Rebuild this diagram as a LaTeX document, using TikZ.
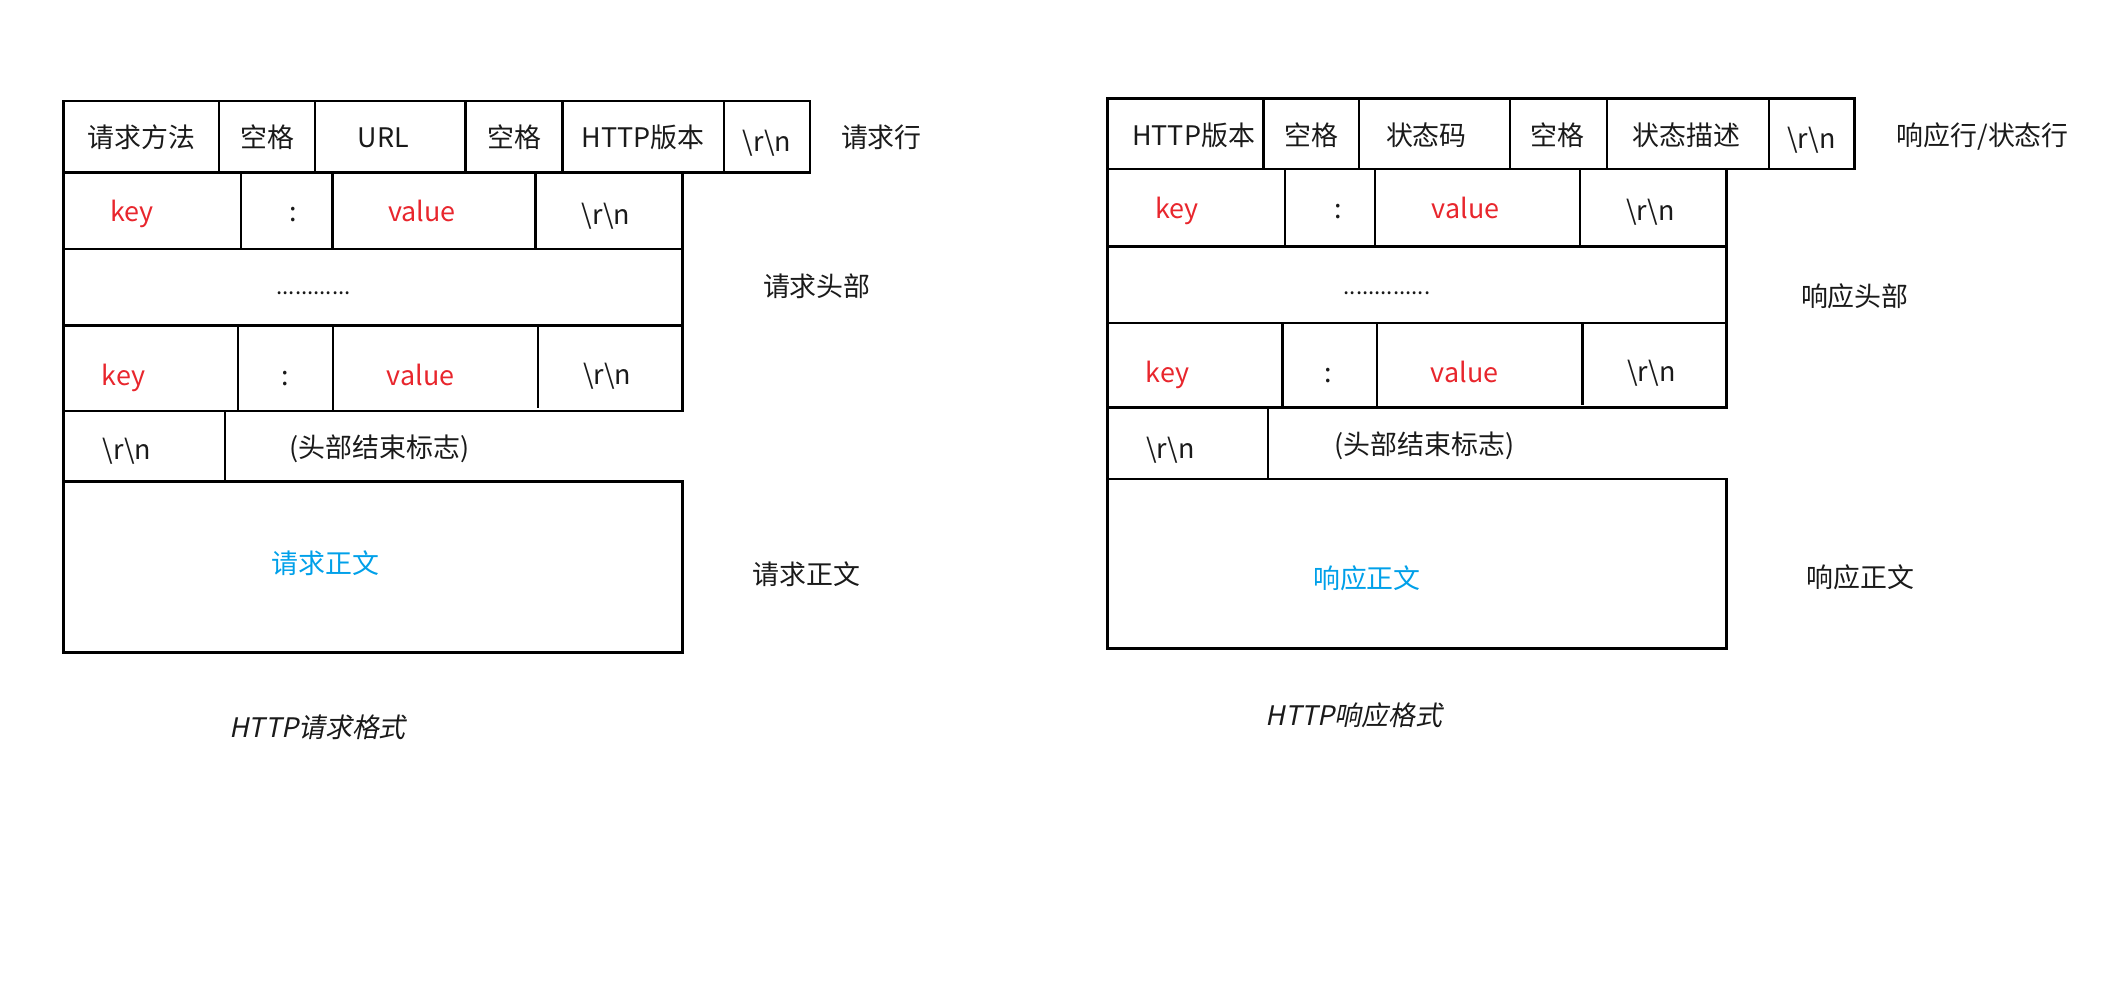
\documentclass[tikz,border=0pt]{standalone}
\usepackage{fontspec}
\setmainfont{Noto Sans CJK SC}
\newfontfamily\slantfont[FakeSlant=0.2]{Noto Sans CJK SC}
\definecolor{kvred}{HTML}{E8262D}
\definecolor{bodyblue}{HTML}{00A0E9}
\definecolor{ink}{HTML}{1A1A1A}
\newcommand{\crlf}{\textbackslash r\textbackslash n}
\begin{document}
\begin{tikzpicture}[x=1pt,y=-1pt,
  frame/.style={draw=black,line width=2pt},
  divider/.style={draw=black,line width=1.7pt},
  lbl/.style={inner sep=0pt,anchor=base,text=ink,font=\fontsize{20}{24}\selectfont},
  kv/.style={lbl,text=kvred},
  bodytxt/.style={lbl,text=bodyblue},
  dotsty/.style={lbl,font=\fontsize{16.5}{18}\selectfont},
  captxt/.style={lbl,font=\fontsize{20}{24}\slantfont}]
\useasboundingbox (0,0) rectangle (1568,744);
% ================= LEFT: request =================
% row 1
\draw[frame] (47,75) rectangle (602,128);
\foreach \x in {163,234,346,418,538} \draw[divider] (\x,75) -- (\x,128);
% row 2
\draw[frame] (47,128) rectangle (507,185);
\foreach \x in {179,247,398} \draw[divider] (\x,128) -- (\x,185);
% row 3
\draw[frame] (47,185) rectangle (507,242);
% row 4
\draw[frame] (47,242) rectangle (507,305.5);
\foreach \x in {177,247.5} \draw[divider] (\x,242) -- (\x,305.5);
\draw[divider] (400,242) -- (400,303);
% row 5
\draw[frame] (47,305.5) -- (47,358);
\draw[divider] (167,305.5) -- (167,358);
% body
\draw[frame] (47,358) rectangle (507,485);
% texts
\node[lbl] (lm) at (105,109.5) {请求方法};
\node[lbl] (ls1) at (198.5,109.5) {空格};
\node[lbl] (lurl) at (285,109.5) {URL};
\node[lbl] (ls2) at (382,109.5) {空格};
\node[lbl] (lver) at (478,109.5) {HTTP版本};
\node[lbl] (lcr1) at (570,112.5) {\crlf};
\node[lbl] (lrow) at (655,109.6) {请求行};
\node[kv] (lk1) at (98,164.7) {key};
\node[lbl] (lc1) at (218,164.7) {:};
\node[kv] (lv1) at (313.5,164.7) {value};
\node[lbl] (lcr2) at (450.3,167) {\crlf};
\node[dotsty] (ldots) at (233,219) {............};
\node[lbl] (lhead) at (607,220.6) {请求头部};
\node[kv] (lk2) at (91.7,286.5) {key};
\node[lbl] (lc2) at (211.6,286.5) {:};
\node[kv] (lv2) at (312.6,286.5) {value};
\node[lbl] (lcr3) at (451.2,286) {\crlf};
\node[lbl] (lcr4) at (94.5,341.8) {\crlf};
\node[lbl] (lend) at (282,340.3) {(头部结束标志)};
\node[bodytxt] (lbody) at (242,426.2) {请求正文};
\node[lbl] (lbodyl) at (599.5,434.2) {请求正文};
\node[captxt] (lcap) at (236,548) {HTTP请求格式};
% ================= RIGHT: response =================
% row 1
\draw[frame] (823,73) rectangle (1378,125.5);
\foreach \x in {939,1010,1122,1194,1314.5} \draw[divider] (\x,73) -- (\x,125.5);
% row 2
\draw[frame] (823,125.5) rectangle (1283,183);
\foreach \x in {955,1022,1174} \draw[divider] (\x,125.5) -- (\x,183);
% row 3
\draw[frame] (823,183) rectangle (1283,240);
% row 4
\draw[frame] (823,240) rectangle (1283,303);
\foreach \x in {953,1023.5} \draw[divider] (\x,240) -- (\x,303);
\draw[divider] (1176,240) -- (1176,301);
% row 5
\draw[frame] (823,303) -- (823,356);
\draw[divider] (942.5,303) -- (942.5,356);
% body
\draw[frame] (823,356) rectangle (1283,482);
% texts
\node[lbl] (rver) at (887,107.8) {HTTP版本};
\node[lbl] (rs1) at (974.5,107.8) {空格};
\node[lbl] (rcode) at (1060,107.8) {状态码};
\node[lbl] (rs2) at (1157.5,107.8) {空格};
\node[lbl] (rdesc) at (1253,107.8) {状态描述};
\node[lbl] (rcr1) at (1346,110) {\crlf};
\node[lbl] (rrow) at (1473.4,108) {响应行/状态行};
\node[kv] (rk1) at (874.6,162.2) {key};
\node[lbl] (rc1) at (994.3,162.2) {:};
\node[kv] (rv1) at (1089.2,162.2) {value};
\node[lbl] (rcr2) at (1226.6,164.2) {\crlf};
\node[dotsty] (rdots) at (1030.7,218.5) {..............};
\node[lbl] (rhead) at (1378.4,228) {响应头部};
\node[kv] (rk2) at (867.5,284.4) {key};
\node[lbl] (rc2) at (987,284.4) {:};
\node[kv] (rv2) at (1088.4,284.4) {value};
\node[lbl] (rcr3) at (1227.2,283.5) {\crlf};
\node[lbl] (rcr4) at (869.8,340.6) {\crlf};
\node[lbl] (rend) at (1058.4,337.8) {(头部结束标志)};
\node[bodytxt] (rbody) at (1015.8,437.4) {响应正文};
\node[lbl] (rbodyl) at (1382.5,436.6) {响应正文};
\node[captxt] (rcap) at (1006.2,538.8) {HTTP响应格式};
\end{tikzpicture}
\end{document}
